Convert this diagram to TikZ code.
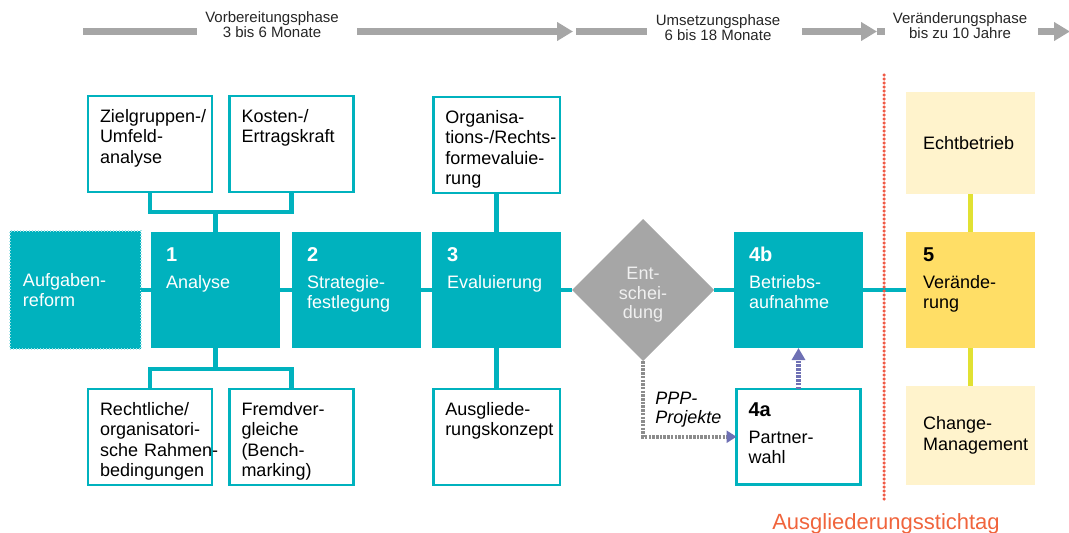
\documentclass[tikz,border=0pt]{standalone}
\usepackage{fontspec}
\setmainfont{Liberation Sans}
\usetikzlibrary{positioning,calc,arrows.meta,shapes.geometric}

\definecolor{ppteal}{RGB}{0,178,190}
\definecolor{ppgray}{RGB}{166,166,166}
\definecolor{ppdot}{RGB}{140,140,140}
\definecolor{ppblue}{RGB}{110,112,180}
\definecolor{ppyellow}{RGB}{255,222,102}
\definecolor{pplight}{RGB}{255,243,204}
\definecolor{pplime}{RGB}{225,225,50}
\definecolor{ppred}{RGB}{240,90,70}
\definecolor{pporange}{RGB}{240,100,60}

\hyphenpenalty=10000
\exhyphenpenalty=10000
\newcommand{\stagenum}[1]{{\fontsize{20}{20}\selectfont\bfseries #1}}

\tikzset{
  boxfont/.style={font=\fontsize{18}{20.5}\selectfont},
  stage/.style={rectangle, boxfont, fill=ppteal, text=white, align=left,
    inner xsep=15pt, inner ysep=0pt, text width=99pt,
    text height=29pt, text depth=87pt, outer sep=0pt},
  reform/.style={rectangle, boxfont, fill=ppteal, text=white, align=left,
    draw=white!65!ppteal, line width=1.5pt, dash pattern=on 1pt off 2pt,
    inner xsep=13pt, text width=105pt, minimum height=118pt, outer sep=0pt},
  infobox/.style={rectangle, boxfont, draw=ppteal, line width=2.5pt, fill=white,
    align=left, inner xsep=12pt, inner ysep=0pt, text width=100pt,
    text height=26pt, text depth=70pt, outer sep=0pt},
  softbox/.style={rectangle, boxfont, fill=pplight, align=left,
    inner xsep=17pt, text width=95pt, minimum height=102pt, outer sep=0pt},
  decision/.style={diamond, fill=ppgray, minimum width=142pt,
    minimum height=142pt, inner sep=0pt, outer sep=0pt},
  dialabel/.style={font=\fontsize{18}{19.5}\selectfont, align=center,
    text=white!94!black, inner sep=0pt},
  ppplabel/.style={font=\fontsize{18}{19}\selectfont\itshape, align=left,
    inner sep=0pt},
  phaselabel/.style={font=\fontsize{15}{15}\selectfont, align=center,
    inner sep=0pt, text=black!85},
  stichtag/.style={font=\fontsize{22}{22}\selectfont, text=pporange, inner sep=0pt},
  link/.style={draw=ppteal, line width=4.5pt},
  limelink/.style={draw=pplime, line width=4.5pt},
  ppplink/.style={draw=ppdot, line width=4.5pt, dash pattern=on 2.5pt off 1.2pt,
    -{Triangle[length=10pt,width=12pt,color=ppblue]}},
  partnerlink/.style={draw=ppblue, line width=4.5pt, dash pattern=on 2.5pt off 1.2pt,
    -{Triangle[length=12pt,width=13pt]}},
  cutline/.style={draw=ppred, line width=3.5pt, line cap=round,
    dash pattern=on 0pt off 4pt},
  phasebar/.style={draw=ppgray, line width=7pt},
  phasearrow/.style={phasebar, -{Triangle[length=16pt,width=18pt]}}
}

\begin{document}
\begin{tikzpicture}[x=1pt, y=-1pt]
  \useasboundingbox (0,0) rectangle (1069,533);

  % phase arrows
  \draw[phasebar]   (83,31.5)   -- (197,31.5);
  \draw[phasearrow] (357,31.5)  -- (573,31.5);
  \draw[phasebar]   (576,31.5)  -- (647,31.5);
  \draw[phasearrow] (802,31.5)  -- (877,31.5);
  \fill[ppgray]     (877,28) rectangle (885,35);
  \draw[phasearrow] (1038,31.5) -- (1070,31.5);

  \node[phaselabel, anchor=north] (prep) at (272,11) {Vorbereitungsphase\\3 bis 6 Monate};
  \node[phaselabel, anchor=north] (impl) at (718,14) {Umsetzungsphase\\6 bis 18 Monate};
  \node[phaselabel, anchor=north] (chg)  at (960,12) {Veränderungsphase\\bis zu 10 Jahre};

  % main row
  \node[reform, anchor=west] (ar) at (10,290) {Aufgaben-\\reform};
  \node[stage, right=10pt of ar] (s1) {\stagenum{1}\\[6.5pt]Analyse};
  \node[stage, right=12pt of s1] (s2) {\stagenum{2}\\[6.5pt]Strategie-\\festlegung};
  \node[stage, right=11pt of s2] (s3) {\stagenum{3}\\[6.5pt]Evaluierung};
  \node[decision, right=11pt of s3] (dia) {};
  \node[dialabel] (ent) at ($(dia.center)+(0,5)$) {Ent-\\schei-\\dung};
  \node[stage, right=20pt of dia] (s4b) {\stagenum{4b}\\[6.5pt]Betriebs-\\aufnahme};
  \node[stage, fill=ppyellow, text=black, inner xsep=17pt, text width=95pt,
        right=43pt of s4b] (s5) {\stagenum{5}\\[6.5pt]Verände-\\rung};

  % side boxes
  \node[infobox, anchor=north west] (zg) at (88,96) {Zielgruppen-/\\Umfeld-\\analyse};
  \node[infobox, anchor=north west] (kk) at (229.5,96) {Kosten-/\\Ertragskraft};
  \node[infobox, text width=102.5pt, above=39pt of s3] (org)
       {Organisa-\\tions-/Rechts-\\formevaluie-\\rung};
  \node[infobox, anchor=north west] (rb) at (88,389)
       {Rechtliche/\\organisatori-\\sche~Rahmen-\\bedingungen};
  \node[infobox, anchor=north west] (fv) at (229.5,389)
       {Fremdver-\\gleiche\\(Bench-\\marking)};
  \node[infobox, text width=102.5pt, below=41pt of s3] (ak) {Ausgliede-\\rungskonzept};
  \node[infobox, text height=27pt, text depth=68.5pt, below=41pt of s4b] (pa)
       {\stagenum{4a}\\[6.5pt]Partner-\\wahl};
  \node[softbox, above=38pt of s5] (eb) {Echtbetrieb};
  \node[softbox, minimum height=99pt, below=38pt of s5] (cm) {Change-\\Management};

  % connectors
  \draw[link] (ar) -- (s1);
  \draw[link] (s1) -- (s2);
  \draw[link] (s2) -- (s3);
  \draw[link] (s3) -- (dia);
  \draw[link] (dia) -- (s4b);
  \draw[link] (s4b) -- (s5);

  \coordinate (topfork) at ($(s1.north)+(0,-20)$);
  \coordinate (botfork) at ($(s1.south)+(0,21)$);
  \draw[link] (s1.north) -- (topfork);
  \draw[link] (zg.south) |- (topfork) -| (kk.south);
  \draw[link] (s1.south) -- (botfork);
  \draw[link] (rb.north) |- (botfork) -| (fv.north);
  \draw[link] (s3) -- (org);
  \draw[link] (s3) -- (ak);

  \draw[limelink] (eb) -- (s5);
  \draw[limelink] (s5) -- (cm);

  \draw[ppplink] (dia.south) |- node[ppplabel, pos=0.5, anchor=south west,
        xshift=10pt, yshift=7pt] (ppp) {PPP-\\Projekte} (pa.west);
  \draw[partnerlink] (pa) -- (s4b);

  % cut-off date
  \coordinate (cuttop) at (884,75);
  \coordinate (cutbot) at (884,500);
  \draw[cutline] (cuttop) -- (cutbot);
  \node[stichtag, anchor=base] (stt) at (886,529) {Ausgliederungsstichtag};
\end{tikzpicture}
\end{document}
